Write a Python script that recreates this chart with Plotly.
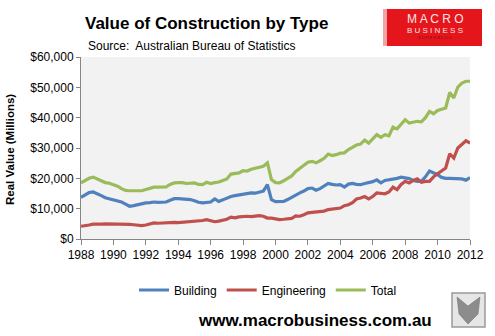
import plotly.graph_objects as go

# ---- data (quarterly, $ millions, thousands) ----
years = [1988 + q / 4 for q in range(97)]
building = [
    13.7, 14.6, 15.3, 15.5, 15.0, 14.3, 13.6, 13.2, 13.0, 12.6, 12.2, 11.5,
    10.8, 11.0, 11.3, 11.7, 11.9, 12.0, 12.2, 12.1, 12.2, 12.2, 12.8, 13.3,
    13.3, 13.2, 13.0, 13.0, 12.6, 12.1, 11.9, 12.0, 12.2, 13.2, 12.4, 12.9,
    13.5, 14.0, 14.3, 14.5, 14.6, 14.9, 15.2, 15.1, 15.4, 15.8, 17.9, 13.0,
    12.3, 12.3, 12.4, 13.0, 13.8, 14.6, 15.2, 15.8, 16.6, 16.8, 16.1, 16.6,
    17.4, 18.3, 18.0, 17.8, 17.9, 17.1, 18.1, 18.3, 18.0, 17.9, 18.3, 18.5,
    18.9, 19.5, 18.5, 19.3, 19.5, 19.7, 20.0, 20.4, 20.2, 19.9, 19.3, 19.0,
    19.0, 20.5, 22.4, 21.9, 21.2, 20.3, 20.0, 20.0, 20.0, 19.9, 19.8, 19.4,
    20.2,
]
engineering = [
    4.2, 4.3, 4.6, 4.9, 4.8, 4.9, 5.0, 5.0, 5.0, 5.0, 5.0, 4.9,
    4.8, 4.7, 4.6, 4.4, 4.6, 5.0, 5.3, 5.2, 5.3, 5.4, 5.5, 5.5,
    5.4, 5.5, 5.6, 5.7, 6.0, 5.9, 6.1, 6.4, 6.0, 5.7, 5.9, 6.3,
    6.5, 7.2, 7.0, 7.3, 7.5, 7.5, 7.4, 7.6, 7.7, 7.5, 6.9, 6.9,
    6.6, 6.4, 6.5, 6.7, 6.8, 7.6, 7.5, 8.0, 8.6, 8.8, 8.9, 9.1,
    9.2, 9.7, 9.8, 10.0, 10.2, 11.0, 11.3, 12.0, 13.2, 13.5, 14.0, 13.2,
    14.0, 15.2, 15.0, 14.9, 15.5, 17.1, 16.3, 18.0, 19.0, 18.5, 19.3, 19.8,
    18.7, 19.0, 19.0, 20.5, 21.5, 22.5, 23.4, 28.1, 26.7, 30.0, 31.1, 32.4,
    31.6,
]
total = [
    18.5, 19.3, 20.0, 20.4, 19.8, 19.3, 18.6, 18.4, 18.0, 17.4, 16.6, 16.0,
    15.9, 15.9, 15.9, 15.9, 16.3, 16.8, 17.1, 17.1, 17.2, 17.2, 18.0, 18.5,
    18.6, 18.6, 18.3, 18.4, 18.5, 18.0, 17.9, 18.7, 18.3, 18.6, 18.8, 19.3,
    19.8, 21.4, 21.7, 21.8, 22.5, 22.4, 23.0, 23.3, 23.6, 24.0, 25.1, 19.6,
    18.6, 18.5, 19.2, 20.0, 20.8, 22.3, 23.4, 24.5, 25.3, 25.6, 25.1, 25.8,
    26.6, 28.0, 27.5, 27.8, 28.3, 28.4, 29.5, 30.2, 31.0, 31.3, 32.6, 31.6,
    32.9, 34.4, 33.5, 34.4, 34.0, 36.9, 36.3, 38.0, 39.3, 38.2, 38.5, 38.8,
    38.6, 40.0, 42.1, 41.3, 42.4, 42.7, 43.2, 48.3, 46.5, 50.1, 51.4, 52.0,
    52.0,
]
series_names = ["Building", "Engineering", "Total"]
series_colors = ["#4F81BD", "#C0504D", "#9BBB59"]
x_ticks = list(range(1988, 2013, 2))
y_ticks = [0, 10000, 20000, 30000, 40000, 50000, 60000]
y_labels = ["$0", "$10,000", "$20,000", "$30,000", "$40,000", "$50,000", "$60,000"]

W, H = 495, 336
L, R, T, B = 81, 470, 57, 239  # plot area in pixels


def px(xp):
    return (xp - L) / (R - L)


def py(yp):
    return (B - yp) / (B - T)


fig = go.Figure()
for name, vals, col in zip(series_names, [building, engineering, total], series_colors):
    fig.add_trace(go.Scatter(
        x=years, y=[v * 1000 for v in vals], name=name, mode="lines",
        line=dict(color=col, width=3.2),
    ))

FONT = "Liberation Sans"
fig.update_layout(
    width=W, height=H,
    margin=dict(l=L, r=W - R, t=T, b=H - B),
    paper_bgcolor="white", plot_bgcolor="#F2F2F2",
    font=dict(family=FONT, color="#000000", size=12),
    showlegend=True,
    legend=dict(orientation="h", x=px(268), xanchor="center", y=py(290), yanchor="middle",
                font=dict(size=12, family=FONT), itemwidth=30, tracegroupgap=0,
                bgcolor="rgba(0,0,0,0)"),
    xaxis=dict(range=[1988, 2012], tickvals=x_ticks, showgrid=False, zeroline=False,
               showline=True, linecolor="#868686", linewidth=1, ticks="outside",
               tickcolor="#868686", ticklen=5, tickfont=dict(size=12, family=FONT)),
    yaxis=dict(range=[0, 60000], tickvals=y_ticks, ticktext=y_labels,
               showgrid=False, zeroline=False, showline=True, linecolor="#868686",
               linewidth=1, ticks="outside", tickcolor="#868686", ticklen=4,
               tickfont=dict(size=12, family=FONT)),
)

ann = [
    dict(text="<b>Value of Construction by Type</b>", x=px(83), y=py(24), xanchor="left",
         yanchor="middle", font=dict(size=17, family=FONT)),
    dict(text="Source:  Australian Bureau of Statistics", x=px(86), y=py(46), xanchor="left",
         yanchor="middle", font=dict(size=12, family=FONT)),
    dict(text="<b>Real Value (Millions)</b>", x=px(10), y=py(150), textangle=-90,
         xanchor="center", yanchor="middle", font=dict(size=11.5, family=FONT)),
    dict(text="<b>www.macrobusiness.com.au</b>", x=px(315), y=py(320), xanchor="center",
         yanchor="middle", font=dict(size=17, family=FONT)),
    dict(text="M A C R O", x=px(435), y=py(19), xanchor="center", yanchor="middle",
         font=dict(size=12, family=FONT, color="#FBE3E3")),
    dict(text="B U S I N E S S", x=px(435), y=py(30), xanchor="center", yanchor="middle",
         font=dict(size=8, family=FONT, color="#FBE3E3")),
    dict(text="S U P E R B L O G", x=px(435), y=py(38), xanchor="center", yanchor="middle",
         font=dict(size=4, family=FONT, color="#8A0A0A")),
]
for a in ann:
    a.update(xref="paper", yref="paper", showarrow=False)
    fig.add_annotation(**a)

shapes = [
    # logo red block with soft left edge
    dict(type="rect", x0=px(383), x1=px(390), y0=py(46), y1=py(9),
         fillcolor="#F4A3A5", line=dict(width=0), layer="above"),
    dict(type="rect", x0=px(387), x1=px(482), y0=py(46), y1=py(9),
         fillcolor="#E4161C", line=dict(width=0), layer="above"),
    # wolf picture box
    dict(type="rect", x0=px(452), x1=px(485), y0=py(327), y1=py(293),
         fillcolor="#E6E6E6", line=dict(color="#9A9A9A", width=1.5), layer="above"),
    dict(type="path", path=f"M {px(457)} {py(297)} L {px(468)} {py(306)} L {px(480)} {py(297)} "
         f"L {px(478)} {py(314)} L {px(468)} {py(324)} L {px(459)} {py(314)} Z",
         fillcolor="#8C8C8C", line=dict(color="#6A6A6A", width=0.5), layer="above"),
]
for s in shapes:
    s.update(xref="paper", yref="paper")
    fig.add_shape(**s)

fig.write_html("out.html")
